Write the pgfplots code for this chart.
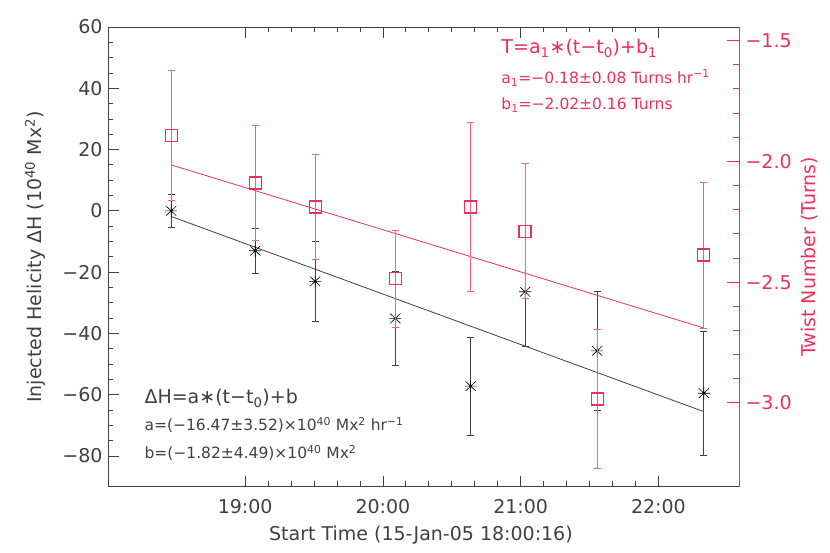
\documentclass[border=0pt]{standalone}
\usepackage{fontspec}
\setmainfont{DejaVu Sans}
\usepackage{pgfplots}
\pgfplotsset{compat=1.18}

\definecolor{idlred}{RGB}{236,48,92}
\definecolor{idlpink}{RGB}{240,100,132}
\definecolor{idlgray}{RGB}{64,64,64}

% IDL style asterisk: X with a horizontal and vertical bar
\pgfdeclareplotmark{idlstar}{%
  \pgfpathmoveto{\pgfqpoint{-\pgfplotmarksize}{0pt}}%
  \pgfpathlineto{\pgfqpoint{\pgfplotmarksize}{0pt}}%
  \pgfpathmoveto{\pgfqpoint{0pt}{-\pgfplotmarksize}}%
  \pgfpathlineto{\pgfqpoint{0pt}{\pgfplotmarksize}}%
  \pgfpathmoveto{\pgfqpoint{-0.85\pgfplotmarksize}{-0.8\pgfplotmarksize}}%
  \pgfpathlineto{\pgfqpoint{0.85\pgfplotmarksize}{0.8\pgfplotmarksize}}%
  \pgfpathmoveto{\pgfqpoint{-0.85\pgfplotmarksize}{0.8\pgfplotmarksize}}%
  \pgfpathlineto{\pgfqpoint{0.85\pgfplotmarksize}{-0.8\pgfplotmarksize}}%
  \pgfusepathqstroke}

% open red square, colour set inside the mark
\pgfdeclareplotmark{idlsquare}{%
  \pgfsetstrokecolor{idlred}%
  \pgfsetlinewidth{1.2pt}%
  \pgfpathrectangle{\pgfqpoint{-\pgfplotmarksize}{-\pgfplotmarksize}}%
    {\pgfqpoint{2\pgfplotmarksize}{2\pgfplotmarksize}}%
  \pgfusepathqstroke}

\newcommand{\bigfont}{\fontsize{19}{19}\selectfont}
\newcommand{\smallfont}{\fontsize{15.5}{15.5}\selectfont}

% hours after 18:00, helicity (1e40 Mx^2), error
\pgfplotstableread{
t     H      e
0.463   0.0   5.3
1.073 -13.0   7.3
1.508 -23.0  13.0
2.090 -35.1  15.2
2.637 -57.2  16.0
3.032 -26.4  17.9
3.555 -45.7  19.5
4.330 -59.5  20.3
}\helicity

% hours after 18:00, twist number (turns), error
\pgfplotstableread{
t     T       e
0.463 -1.892  0.268
1.073 -2.090  0.239
1.508 -2.189  0.219
2.090 -2.486  0.200
2.637 -2.189  0.348
3.032 -2.289  0.279
3.555 -2.984  0.288
4.330 -2.388  0.302
}\twist

\begin{document}
\begin{tikzpicture}
\begin{axis}[
  name=main,
  scale only axis, width=631pt, height=459.7pt,
  xmin=0.0044, xmax=4.585, ymin=-90, ymax=60,
  xtick={1,2,3,4}, xticklabels={19:00,20:00,21:00,22:00},
  minor x tick num=5,
  ytick={-80,-60,-40,-20,0,20,40,60},
  yticklabels={−80,−60,−40,−20,0,20,40,60},
  minor y tick num=3,
  xtick pos=both, ytick pos=left,
  tick align=inside, major tick length=11pt, minor tick length=5.5pt,
  axis line style={idlgray, line width=0.8pt},
  tick style={idlgray, line width=0.8pt},
  ticklabel style={font=\bigfont, text=idlgray},
  xticklabel style={yshift=-9pt},
  yticklabel style={xshift=-2pt},
  xlabel={Start Time (15-Jan-05 18:00:16)},
  xlabel style={font=\bigfont, text=idlgray, at={(axis description cs:0.496,-0.1045)}, anchor=center},
  ylabel={Injected Helicity ΔH (10\textsuperscript{40} Mx\textsuperscript{2})},
  ylabel style={font=\bigfont, text=idlgray, at={(axis description cs:-0.1157,0.5)}, anchor=center, rotate=0},
  clip=false,
]
\addplot[idlgray, line width=0.8pt] coordinates {(0.463,-1.82) (4.330,-65.51)};
\addplot[draw=none, mark=none, forget plot,
  error bars/.cd, y dir=both, y explicit,
  error bar style={draw=idlgray, line width=0.8pt},
  error mark options={rotate=90, mark size=3.5pt, draw=idlgray, line width=0.8pt}]
  table[x=t, y=H, y error=e] {\helicity};
\addplot[only marks, mark=idlstar, mark size=6pt, black, line width=0.6pt]
  table[x=t, y=H] {\helicity};

\node[anchor=west, text=idlgray, font=\bigfont] at (axis description cs:0.0523,0.193)
  {ΔH=a∗(t−t\textsubscript{0})+b};
\node[anchor=west, text=idlgray, font=\smallfont] at (axis description cs:0.0523,0.134)
  {a=(−16.47±3.52)×10\textsuperscript{40} Mx\textsuperscript{2} hr\textsuperscript{−1}};
\node[anchor=west, text=idlgray, font=\smallfont] at (axis description cs:0.0523,0.0733)
  {b=(−1.82±4.49)×10\textsuperscript{40} Mx\textsuperscript{2}};
\end{axis}

\begin{axis}[
  at={(main.south west)}, anchor=south west,
  scale only axis, width=631pt, height=459.7pt,
  xmin=0.0044, xmax=4.585, ymin=-3.347, ymax=-1.444,
  axis x line=none, axis y line*=right,
  ytick={-3,-2.5,-2,-1.5}, yticklabels={−3.0,−2.5,−2.0,−1.5},
  minor y tick num=4,
  tick align=inside, major tick length=12pt, minor tick length=6pt,
  axis line style={idlred, line width=0.8pt},
  tick style={idlred, line width=0.8pt},
  ticklabel style={font=\bigfont, text=idlred},
  yticklabel style={xshift=3pt},
  ylabel={Twist Number (Turns)},
  ylabel style={font=\bigfont, text=idlred, at={(axis description cs:1.1125,0.5)}, anchor=center},
  clip=false,
]
\addplot[idlred, line width=0.8pt] coordinates {(0.463,-2.015) (4.330,-2.690)};
\addplot[draw=none, mark=none, forget plot,
  error bars/.cd, y dir=both, y explicit,
  error bar style={draw=idlpink, line width=0.8pt},
  error mark options={rotate=90, mark size=3.5pt, draw=idlpink, line width=0.8pt}]
  table[x=t, y=T, y error=e] {\twist};
\addplot[only marks, mark=idlsquare, mark size=6pt, idlred,
  mark options={draw=idlred, fill=none, solid, line width=1.2pt}]
  table[x=t, y=T] {\twist};

\node[anchor=west, text=idlred, font=\bigfont] at (axis description cs:0.618,0.954)
  {T=a\textsubscript{1}∗(t−t\textsubscript{0})+b\textsubscript{1}};
\node[anchor=west, text=idlred, font=\smallfont] at (axis description cs:0.618,0.889)
  {a\textsubscript{1}=−0.18±0.08 Turns hr\textsuperscript{−1}};
\node[anchor=west, text=idlred, font=\smallfont] at (axis description cs:0.618,0.830)
  {b\textsubscript{1}=−2.02±0.16 Turns};
\end{axis}

\path (main.south west) ++(-108pt,-66.3pt) rectangle ++(830pt,553pt);
\end{tikzpicture}
\end{document}
